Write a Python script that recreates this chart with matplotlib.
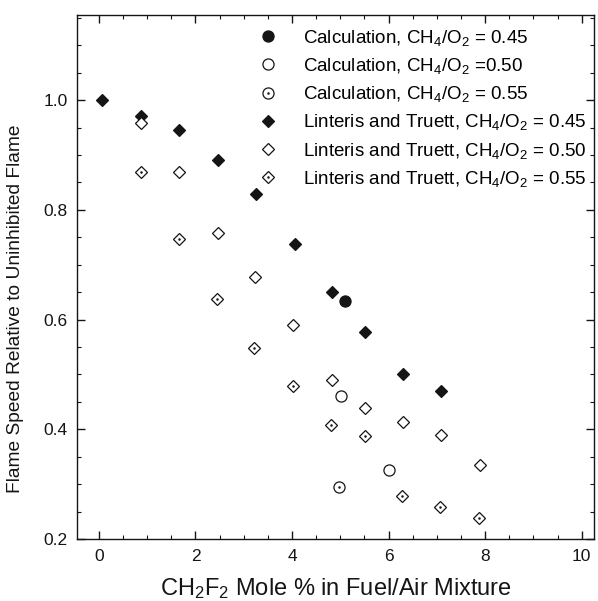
import numpy as np
import matplotlib
matplotlib.use("Agg")
import matplotlib.pyplot as plt
from matplotlib.legend_handler import HandlerTuple

plt.rcParams['font.family'] = ['Liberation Sans', 'DejaVu Sans']
plt.rcParams['mathtext.fontset'] = 'custom'
plt.rcParams['mathtext.rm'] = 'Liberation Sans'
plt.rcParams['mathtext.it'] = 'Liberation Sans'

# calculation points
calc45_x = [5.09]
calc45_y = [0.633]
calc50_x = [5.01, 6.00]
calc50_y = [0.460, 0.326]
calc55_x = [4.98]
calc55_y = [0.295]

# Linteris and Truett data
lt45_x = [0.06, 0.87, 1.66, 2.46, 3.25, 4.06, 4.82, 5.51, 6.30, 7.09]
lt45_y = [1.0, 0.971, 0.945, 0.89, 0.828, 0.738, 0.65, 0.577, 0.50, 0.469]
lt50_x = [0.87, 1.66, 2.46, 3.24, 4.02, 4.82, 5.51, 6.30, 7.09, 7.89]
lt50_y = [0.959, 0.869, 0.758, 0.677, 0.590, 0.490, 0.439, 0.414, 0.389, 0.335]
lt55_x = [0.87, 1.66, 2.44, 3.22, 4.02, 4.80, 5.51, 6.28, 7.06, 7.87]
lt55_y = [0.869, 0.746, 0.637, 0.549, 0.479, 0.408, 0.388, 0.279, 0.259, 0.239]

labels = ["Calculation, CH$_4$/O$_2$ = 0.45",
          "Calculation, CH$_4$/O$_2$ =0.50",
          "Calculation, CH$_4$/O$_2$ = 0.55",
          "Linteris and Truett, CH$_4$/O$_2$ = 0.45",
          "Linteris and Truett, CH$_4$/O$_2$ = 0.50",
          "Linteris and Truett, CH$_4$/O$_2$ = 0.55"]

ink = '#151515'
fig = plt.figure(figsize=(5.98, 6.01), dpi=100)
ax = fig.add_axes([0.129, 0.103, 0.864, 0.872])

circ = dict(ls='none', marker='o', ms=8, mec=ink, mew=0.9)
diam = dict(ls='none', marker='D', ms=6.3, mec=ink, mew=0.9)
dot = dict(ls='none', marker='o', ms=1.8, mec=ink, mfc=ink, mew=0)

h1, = ax.plot(calc45_x, calc45_y, mfc=ink, **circ)
h2, = ax.plot(calc50_x, calc50_y, mfc='white', **circ)
h3a, = ax.plot(calc55_x, calc55_y, mfc='white', **circ)
h3b, = ax.plot(calc55_x, calc55_y, **dot)
h4, = ax.plot(lt45_x, lt45_y, mfc=ink, **diam)
h5, = ax.plot(lt50_x, lt50_y, mfc='white', **diam)
h6a, = ax.plot(lt55_x, lt55_y, mfc='white', **diam)
h6b, = ax.plot(lt55_x, lt55_y, **dot)

ax.set_xlim(-0.45, 10.25)
ax.set_ylim(0.2, 1.155)
ax.set_xticks(np.arange(0, 11, 2))
ax.set_xticks(np.arange(0, 10.3, 0.5), minor=True)
ax.set_yticks([0.2, 0.4, 0.6, 0.8, 1.0])
ax.set_yticks(np.arange(0.2, 1.16, 0.05), minor=True)
ax.set_yticklabels(['0.2', '0.4', '0.6', '0.8', '1.0'])
ax.tick_params(which='both', direction='in', top=True, right=True,
               labelsize=12.5, colors=ink, pad=7)
ax.tick_params(which='major', length=6, width=1)
ax.tick_params(which='minor', length=3, width=0.8)
for s in ax.spines.values():
    s.set_color(ink)
    s.set_linewidth(1)

ax.set_xlabel("CH$_2$F$_2$ Mole % in Fuel/Air Mixture", fontsize=17, color=ink, labelpad=8.5)
ax.set_ylabel("Flame Speed Relative to Uninhibited Flame", fontsize=13.8, color=ink)
ax.yaxis.set_label_coords(-0.102, 0.44)

ax.legend([h1, h2, (h3a, h3b), h4, h5, (h6a, h6b)], labels,
          handler_map={tuple: HandlerTuple(ndivide=1, pad=0)},
          loc='upper left', bbox_to_anchor=(0.351, 0.976), frameon=False,
          fontsize=13.5, numpoints=1, handlelength=1.0, handletextpad=1.35,
          labelspacing=0.44, borderaxespad=0, borderpad=0)

fig.savefig("out.png", dpi=100)
